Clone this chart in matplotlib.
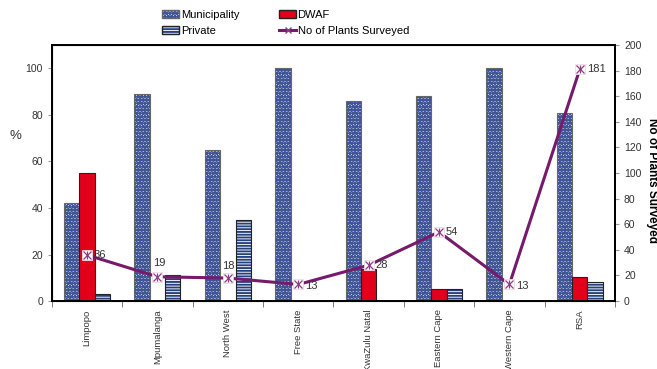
import matplotlib.pyplot as plt
import numpy as np
from matplotlib.colors import to_rgba
from matplotlib.patches import Patch
from matplotlib.lines import Line2D

plt.rcParams['font.family'] = ['Liberation Sans', 'DejaVu Sans']
plt.rcParams['hatch.linewidth'] = 1.35

provinces = ["Limpopo", "Mpumalanga", "North West", "Free State",
             "KwaZulu Natal", "Eastern Cape", "Western Cape", "RSA"]
municipality = [42, 89, 65, 100, 86, 88, 100, 81]
dwaf = [55, 0, 0, 0, 14, 5, 0, 10.5]
private = [3, 11, 35, 0, 0, 5, 0, 8]
plants_surveyed = [36, 19, 18, 13, 28, 54, 13, 181]

# label offsets (points) for the line annotations
label_offsets = [(5, 0), (1, 10), (0, 9), (5, -1), (5, 0), (5, 0), (5, -1), (5, 0)]

BLUE = "#3F5598"
NAVY = "#24407E"
RED = "#E2001A"
PURPLE = "#751A6C"
TEXT = "#333333"
MUNI_HATCH = "ooooo"
PRIV_HATCH = "------"

fig = plt.figure(figsize=(6.57, 3.69), dpi=100)
ax = fig.add_axes([0.079, 0.184, 0.857, 0.694])

x = np.arange(len(provinces))
w = 0.218

bars_m = ax.bar(x - w, municipality, w, facecolor="white", edgecolor="#666666",
                hatch=MUNI_HATCH, linewidth=0.8)
for b in bars_m:
    b._hatch_color = to_rgba(BLUE)
bars_d = ax.bar(x, dwaf, w, color=RED, edgecolor="#222222", linewidth=0.8)
bars_p = ax.bar(x + w, private, w, facecolor="white", edgecolor="#222222",
                hatch=PRIV_HATCH, linewidth=0.8)
for b in bars_p:
    b._hatch_color = to_rgba(NAVY)

ax.set_xlim(-0.5, len(provinces) - 0.5)
ax.set_ylim(0, 110)
ax.set_yticks(range(0, 101, 20))
ax.set_xticks(x)
ax.set_xticklabels(provinces, rotation=90, fontsize=6.8, color=TEXT)
ax.set_xticks(np.arange(-0.5, len(provinces), 1), minor=True)
ax.tick_params(axis="x", which="major", length=0, pad=6)
ax.tick_params(axis="x", which="minor", length=4, color="#666666")
ax.tick_params(axis="y", labelsize=7.5, labelcolor=TEXT, length=3, color="#999999")
ax.set_ylabel("%", rotation=0, fontsize=9.5, color=TEXT)
ax.yaxis.set_label_coords(-0.065, 0.62)
for s in ax.spines.values():
    s.set_linewidth(1.4)

ax2 = ax.twinx()
ax2.set_ylim(0, 200)
ax2.set_yticks(range(0, 201, 20))
ax2.tick_params(axis="y", labelsize=7.5, labelcolor=TEXT, length=3, color="#999999")
ax2.spines["right"].set_linewidth(1.4)
ax2.set_ylabel("No of Plants Surveyed", rotation=-90, fontsize=8.5,
               fontweight="bold", va="center")
ax2.yaxis.set_label_coords(1.065, 0.47)

ax2.plot(x, plants_surveyed, color=PURPLE, linewidth=2.2, zorder=3)
ax2.plot(x, plants_surveyed, linestyle="none", marker="s", markersize=7,
         markerfacecolor="white", markeredgecolor="#F0D8E8", markeredgewidth=0.6,
         zorder=4)
ax2.plot(x, plants_surveyed, linestyle="none", marker="x", markersize=6,
         markeredgecolor="#8E3A88", markeredgewidth=0.9, zorder=5)
ax2.plot(x, plants_surveyed, linestyle="none", marker="|", markersize=6,
         markeredgecolor="#8E3A88", markeredgewidth=0.9, zorder=5)
for xi, yi, off in zip(x, plants_surveyed, label_offsets):
    ha = "left" if off[0] >= 5 else "center"
    ax2.annotate(str(yi), (xi, yi), xytext=off, textcoords="offset points",
                 ha=ha, va="center", fontsize=8, color=TEXT, zorder=6)

handles = [
    Patch(facecolor="white", edgecolor="#666666", hatch=MUNI_HATCH, label="Municipality"),
    Patch(facecolor="white", edgecolor="#222222", hatch=PRIV_HATCH, label="Private"),
    Patch(facecolor=RED, edgecolor="#222222", label="DWAF"),
    Line2D([0], [0], color=PURPLE, linewidth=2.2, marker="x", markersize=5,
           markeredgecolor="#8E3A88", label="No of Plants Surveyed"),
]
leg = fig.legend(handles=handles, ncol=2, loc="upper left",
                 bbox_to_anchor=(0.232, 1.0), frameon=False, fontsize=8,
                 handlelength=1.5, handleheight=0.7, handletextpad=0.15,
                 columnspacing=3.6, labelspacing=0.55)
leg.legend_handles[0]._hatch_color = to_rgba(BLUE)
leg.legend_handles[1]._hatch_color = to_rgba(NAVY)

fig.savefig("out.png", dpi=100)
